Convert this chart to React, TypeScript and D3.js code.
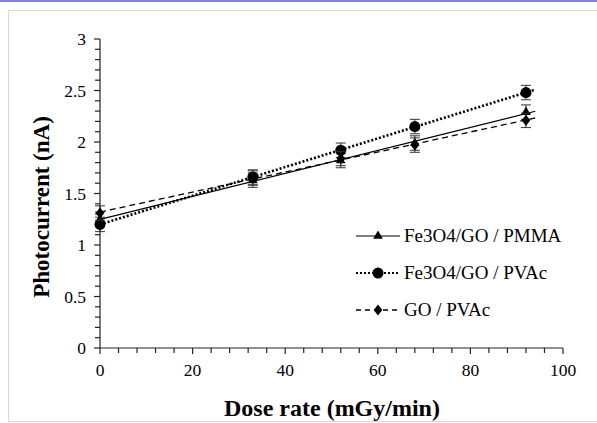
import * as d3 from "d3";
import React, { useEffect, useRef } from "react";

// dose rates (mGy/min) and photocurrent (nA)
const doseRates = [0, 33, 52, 68, 92];
const pmma = [1.25, 1.63, 1.82, 1.99, 2.29];
const pvac = [1.2, 1.66, 1.92, 2.15, 2.48];
const goPvac = [1.31, 1.65, 1.84, 1.97, 2.21];
const errBar = 0.07;

const seriesNames = ["Fe3O4/GO / PMMA", "Fe3O4/GO / PVAc", "GO / PVAc"];
const xTicks = [0, 20, 40, 60, 80, 100];
const yTicks = [0, 0.5, 1, 1.5, 2, 2.5, 3];

const W = 597;
const H = 423;

// least squares line for the trend lines
function fit(xs: number[], ys: number[]) {
  const mx = d3.mean(xs) as number;
  const my = d3.mean(ys) as number;
  let num = 0, den = 0;
  xs.forEach((x, i) => {
    num += (x - mx) * (ys[i] - my);
    den += (x - mx) * (x - mx);
  });
  const b = num / den;
  return { a: my - b * mx, b };
}

const App = () => {
  const ref = useRef<SVGSVGElement>(null);

  useEffect(() => {
    const svg = d3.select(ref.current);
    svg.selectAll("*").remove();

    // page frame
    svg.append("rect").attr("width", W).attr("height", H).attr("fill", "#fff");
    svg.append("rect").attr("x", 0).attr("y", 0).attr("width", W).attr("height", 2).attr("fill", "#7f7fdd");
    svg.append("rect")
      .attr("x", 8.5).attr("y", 10.5).attr("width", W).attr("height", H - 12)
      .attr("fill", "none").attr("stroke", "#d8d8d8");

    const x = d3.scaleLinear().domain([0, 100]).range([100, 563]);
    const y = d3.scaleLinear().domain([0, 3]).range([348, 39]);

    const font = "Times New Roman, Liberation Serif, serif";

    // axes
    const g = svg.append("g").attr("stroke", "#222").attr("stroke-width", 1.2);
    g.append("line").attr("x1", x(0)).attr("x2", x(100)).attr("y1", y(0)).attr("y2", y(0));
    g.append("line").attr("x1", x(0)).attr("x2", x(0)).attr("y1", y(0)).attr("y2", y(3));

    d3.range(0, 100.1, 4).forEach((v) => {
      const major = v % 20 === 0;
      g.append("line")
        .attr("x1", x(v)).attr("x2", x(v))
        .attr("y1", y(0)).attr("y2", y(0) + (major ? 6 : 5));
    });
    d3.range(0, 30.1, 1).map((v) => v / 10).forEach((v) => {
      const major = Math.abs(v * 2 - Math.round(v * 2)) < 1e-6;
      g.append("line")
        .attr("x1", x(0) - (major ? 6 : 5)).attr("x2", x(0))
        .attr("y1", y(v)).attr("y2", y(v));
    });

    svg.selectAll(".xt").data(xTicks).enter().append("text")
      .attr("x", (d) => x(d)).attr("y", y(0) + 28)
      .attr("text-anchor", "middle").style("font-family", font).attr("font-size", 17.5)
      .text((d) => d);
    svg.selectAll(".yt").data(yTicks).enter().append("text")
      .attr("x", x(0) - 14).attr("y", (d) => y(d) + 6)
      .attr("text-anchor", "end").style("font-family", font).attr("font-size", 17.5)
      .text((d) => d);

    svg.append("text")
      .attr("x", 332).attr("y", 416).attr("text-anchor", "middle")
      .style("font-family", font).attr("font-size", 24).attr("font-weight", "bold")
      .text("Dose rate (mGy/min)");
    svg.append("text")
      .attr("transform", `translate(49,207) rotate(-90)`).attr("text-anchor", "middle")
      .style("font-family", font).attr("font-size", 23).attr("font-weight", "bold")
      .text("Photocurrent (nA)");

    const series = [
      { name: seriesNames[0], vals: pmma, dash: null, width: 1.2, marker: "triangle" },
      { name: seriesNames[1], vals: pvac, dash: "2,2", width: 2.6, marker: "circle" },
      { name: seriesNames[2], vals: goPvac, dash: "6,4", width: 1.3, marker: "diamond" },
    ];

    const drawMarker = (sel: any, type: string, cx: number, cy: number) => {
      if (type === "circle") {
        sel.append("circle").attr("cx", cx).attr("cy", cy).attr("r", 5.5).attr("fill", "#000");
      } else if (type === "triangle") {
        sel.append("path")
          .attr("d", d3.symbol(d3.symbolTriangle, 40)())
          .attr("transform", `translate(${cx},${cy})`).attr("fill", "#000");
      } else {
        sel.append("path")
          .attr("d", d3.symbol(d3.symbolDiamond, 45)())
          .attr("transform", `translate(${cx},${cy}) scale(1.2,0.9)`).attr("fill", "#000");
      }
    };

    const plot = svg.append("g");
    series.forEach((s) => {
      const { a, b } = fit(doseRates, s.vals);
      plot.append("line")
        .attr("x1", x(0)).attr("y1", y(a))
        .attr("x2", x(94)).attr("y2", y(a + b * 94))
        .attr("stroke", "#000").attr("stroke-width", s.width)
        .attr("stroke-dasharray", s.dash);
    });

    series.forEach((s) => {
      s.vals.forEach((v, i) => {
        const cx = x(doseRates[i]);
        const eb = plot.append("g").attr("stroke", "#333").attr("stroke-width", 1);
        eb.append("line").attr("x1", cx).attr("x2", cx).attr("y1", y(v - errBar)).attr("y2", y(v + errBar));
        eb.append("line").attr("x1", cx - 5).attr("x2", cx + 5).attr("y1", y(v - errBar)).attr("y2", y(v - errBar));
        eb.append("line").attr("x1", cx - 5).attr("x2", cx + 5).attr("y1", y(v + errBar)).attr("y2", y(v + errBar));
        drawMarker(plot, s.marker, cx, y(v));
      });
    });

    // legend
    const legend = svg.append("g");
    series.forEach((s, i) => {
      const ly = 236 + i * 37;
      legend.append("line")
        .attr("x1", 356).attr("x2", 400).attr("y1", ly).attr("y2", ly)
        .attr("stroke", "#000").attr("stroke-width", s.width === 2.6 ? 2.2 : s.width)
        .attr("stroke-dasharray", s.dash ? (s.dash === "6,4" ? "5,4" : "2,2") : null);
      drawMarker(legend, s.marker, 378, ly);
      legend.append("text")
        .attr("x", 404).attr("y", ly + 6)
        .style("font-family", font).attr("font-size", 19)
        .text(s.name);
    });
  }, []);

  return (
    <div style={{ position: "fixed", left: 0, top: 0 }}>
      <svg ref={ref} width={W} height={H} style={{ display: "block" }} />
    </div>
  );
};

export default App;
